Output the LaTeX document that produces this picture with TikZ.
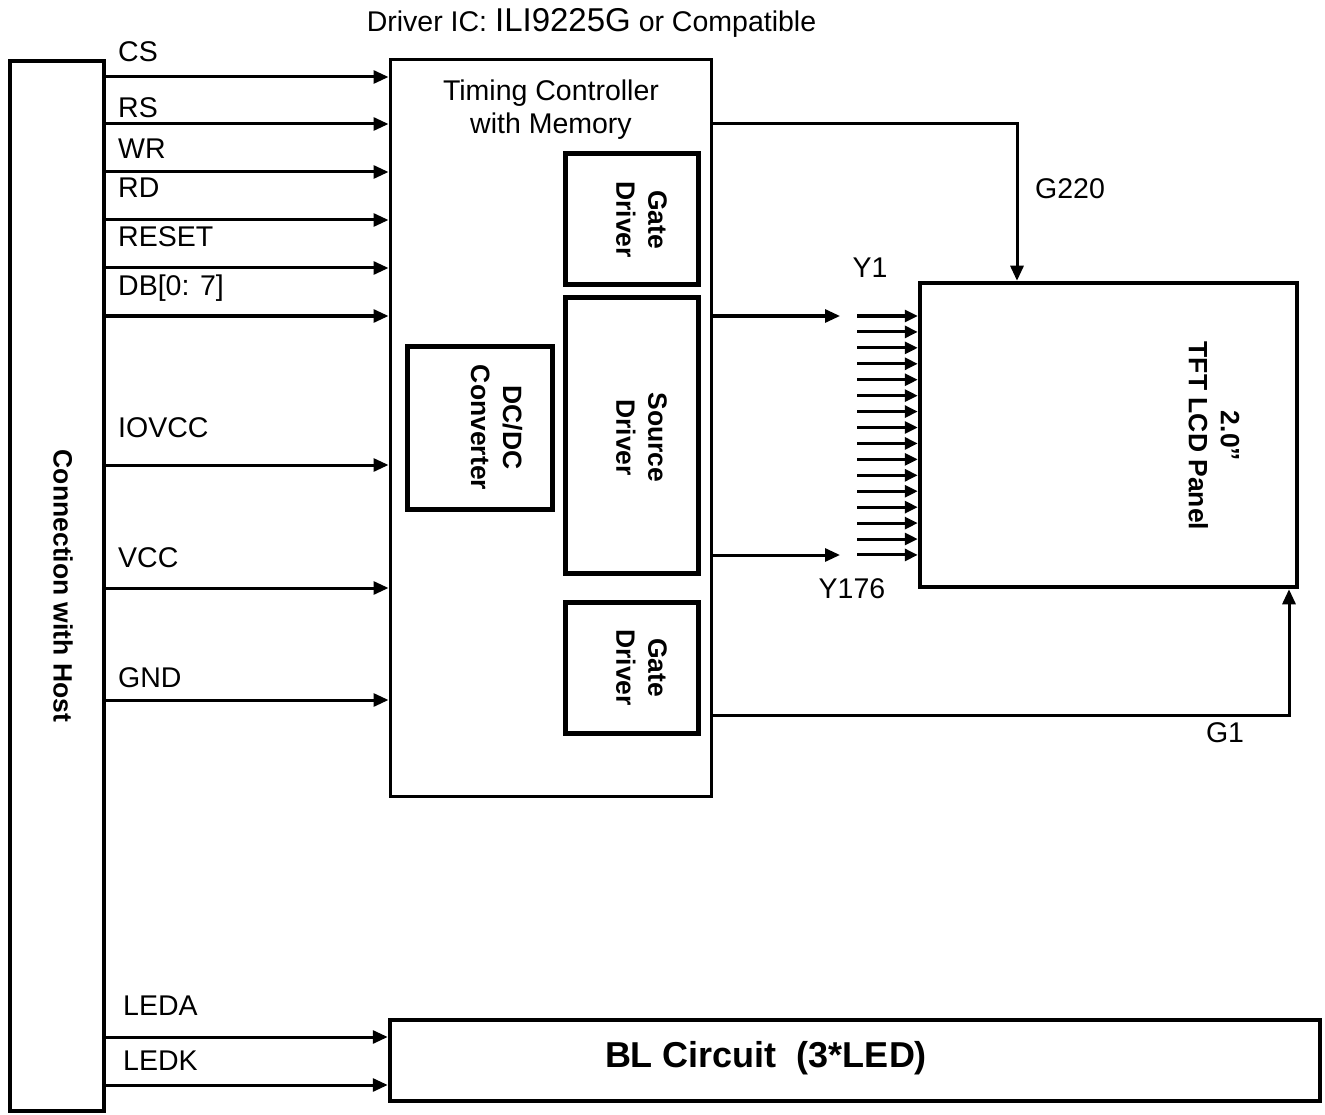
\documentclass[tikz,border=0pt]{standalone}
\usepackage{fontspec}
\setmainfont{Liberation Sans}
\usetikzlibrary{arrows.meta,positioning}

\begin{document}
\begin{tikzpicture}
[x=1pt,y=-1pt]
\tikzset{
	signal/.style = {line width=3pt, -{Triangle[length=15pt,width=13pt]}},
	fanline/.style = {line width=3pt, -{Triangle[length=13pt,width=12pt]}},
	thinbox/.style = {draw, line width=3pt, inner sep=0},
	thickbox/.style = {draw, line width=5pt, inner sep=0},
	plain/.style = {inner sep=0, font=\fontsize{28.5}{33}\selectfont},
	pinlabel/.style = {plain, anchor=base west},
	blocktext/.style = {rotate=-90, align=center, inner sep=0, font=\fontsize{26.5}{32}\selectfont\bfseries}
}
\useasboundingbox (0,0) rectangle (1325,1115);

% blocks
\node(host) [thickbox, line width=4.5pt, minimum width=94pt, minimum height=1050pt] at (57,586) {};
\node(tc) [thinbox, minimum width=321pt, minimum height=736pt] at (550.5,428) {};
\node(gatetop) [thickbox, minimum width=133pt, minimum height=131pt] at (631.5,219.5) {};
\node(source) [thickbox, minimum width=133pt, minimum height=275pt] at (631.5,435.5) {};
\node(gatebot) [thickbox, minimum width=133pt, minimum height=131pt] at (631.5,667.5) {};
\node(dcdc) [thickbox, minimum width=145pt, minimum height=163pt] at (479.5,427.5) {};
\node(lcd) [thickbox, line width=4.5pt, minimum width=377pt, minimum height=304pt] at (1108.5,435) {};
\node(bl) [thickbox, line width=4.5pt, minimum width=930pt, minimum height=81pt] at (855,1060.5) {};

% block texts
\node[blocktext] at ([xshift=6pt]host.center) {Connection with Host};
\node[blocktext] at ([xshift=10pt]gatetop.center) {Gate\\Driver};
\node[blocktext] at ([xshift=10pt,yshift=-2pt]source.center) {Source\\Driver};
\node[blocktext] at ([xshift=10pt]gatebot.center) {Gate\\Driver};
\node[blocktext] at ([xshift=17pt]dcdc.center) {DC/DC\\Converter};
\node[blocktext] at (1214,436) {2.0”\\TFT LCD Panel};
\node[plain, anchor=north, align=center] at (551,79.5) {Timing Controller\\with Memory};
\node[inner sep=0, anchor=base, font=\fontsize{36}{40}\selectfont\bfseries] at (766,1067) {BL Circuit\ \ (3*LED)};
\node[plain, anchor=base] at (591.5,32) {Driver IC: {\fontsize{33}{38}\selectfont ILI9225G} or Compatible};

% host signals
\foreach \pin/\ly/\ay in {CS/62/77, RS/118/124, WR/159/172, RD/198/220, RESET/247/268, {DB[0: 7]}/295/316, IOVCC/437/465, VCC/567/588, GND/687/700}
{
	\node[pinlabel] at (118,\ly) {\pin};
	\coordinate (s) at (0,\ay);
	\draw[signal] (host.east |- s) -- (tc.west |- s);
}
\foreach \pin/\ly/\ay in {LEDA/1015/1037, LEDK/1070/1085}
{
	\node[pinlabel] at (123,\ly) {\pin};
	\coordinate (s) at (0,\ay);
	\draw[signal] (host.east |- s) -- (bl.west |- s);
}

% gate lines
\coordinate (g220) at (1017,124);
\coordinate (g1) at (1289,715);
\draw[signal] (tc.east |- g220) -| (lcd.north -| g220);
\draw[signal] (tc.east |- g1) -| (lcd.south -| g1);
\node[pinlabel] at (1035,199) {G220};
\node[plain, anchor=base] at (1225,742) {G1};

% source lines
\coordinate (y1) at (840,316);
\coordinate (y176) at (840,555);
\draw[signal] (tc.east |- y1) -- (y1);
\draw[signal] (tc.east |- y176) -- (y176);
\foreach \k in {0,...,15}
{
	\coordinate (f) at (857,{316+\k*15.93});
	\draw[fanline] (f) -- (lcd.west |- f);
}
\node[plain, anchor=base] at (870,278) {Y1};
\node[plain, anchor=base] at (852,598) {Y176};
\end{tikzpicture}
\end{document}
